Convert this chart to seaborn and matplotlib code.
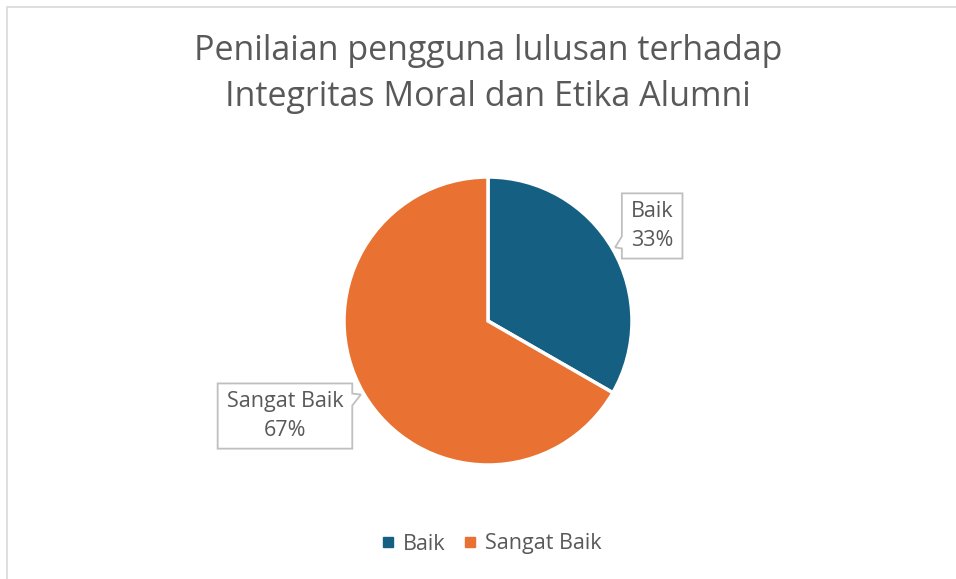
import numpy as np
import seaborn as sns
import matplotlib.pyplot as plt
from matplotlib.lines import Line2D
from matplotlib.patches import Polygon

sns.set_theme(style="white")
plt.rcParams["font.family"] = ["Open Sans", "DejaVu Sans"]

# data
categories = ["Baik", "Sangat Baik"]
values = [33.3, 66.7]
colors = ["#156082", "#E97132"]
title = "Penilaian pengguna lulusan terhadap\nIntegritas Moral dan Etika Alumni"

# label box centres, in pie radius units relative to the centre
label_pos = [(1.14, 0.66), (-1.41, -0.66)]

W, H = 956, 579
fig = plt.figure(figsize=(W / 100, H / 100), dpi=100)
ax = fig.add_axes([0, 0, 1, 1])

cx, cy, R = 488, H - 321, 144
wedges, _ = ax.pie(values, colors=colors, startangle=90, counterclock=False,
                   center=(cx, cy), radius=R,
                   wedgeprops=dict(edgecolor="white", linewidth=2.5))
ax.set_xlim(0, W)
ax.set_ylim(0, H)
ax.set_aspect("equal")
ax.axis("off")

# data labels with callout boxes
texts = []
for w, cat, v, (px, py) in zip(wedges, categories, values, label_pos):
    t = ax.text(cx + px * R, cy + py * R, f"{cat}\n{v:.0f}%", ha="center", va="center",
                fontsize=15.5, color="#595959", linespacing=1.45, zorder=5)
    texts.append((w, t))

fig.canvas.draw()
inv = ax.transData.inverted()
for w, t in texts:
    bb = t.get_window_extent().transformed(inv)
    x0, x1 = bb.x0 - 9, bb.x1 + 9
    y0, y1 = bb.y0 - 8, bb.y1 + 8
    mid = np.deg2rad((w.theta1 + w.theta2) / 2)
    tx, ty = cx + 1.02 * R * np.cos(mid), cy + 1.02 * R * np.sin(mid)
    bc = np.clip(ty + (5 if ty < (y0 + y1) / 2 else -5), y0 + 7, y1 - 7)
    if tx < x0:
        pts = [(x0, y0), (x1, y0), (x1, y1), (x0, y1), (x0, bc + 6), (tx, ty), (x0, bc - 6)]
    else:
        pts = [(x0, y0), (x1, y0), (x1, bc - 6), (tx, ty), (x1, bc + 6), (x1, y1), (x0, y1)]
    ax.add_patch(Polygon(pts, closed=True, fc="white", ec="#bfbfbf", lw=1.3, zorder=4))

fig.text(488 / W, 1 - 74 / H, title, ha="center", va="center", fontsize=24.5,
         color="#595959", linespacing=1.47)

handles = [Line2D([], [], marker="s", ls="", color=c, markersize=7) for c in colors]
fig.legend(handles, categories, loc="center", bbox_to_anchor=(484 / W, 35 / H), ncol=2,
           frameon=False, fontsize=15.5, labelcolor="#595959", handletextpad=-0.3,
           columnspacing=0.15)

# chart border
fig.add_artist(Line2D([7 / W, 1], [1 - 6.5 / H, 1 - 6.5 / H], color="#d9d9d9", lw=1.2))
fig.add_artist(Line2D([7 / W, 7 / W], [0, 1 - 6.5 / H], color="#d9d9d9", lw=1.2))

fig.savefig("out.png", dpi=100, facecolor="white")
